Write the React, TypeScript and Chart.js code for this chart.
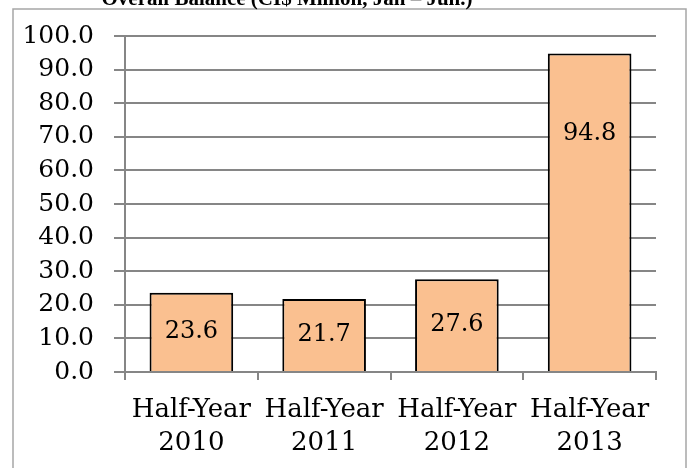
import React, { useEffect, useRef } from "react";
import { Chart, registerables } from "chart.js";

Chart.register(...registerables);

const categories: string[][] = [
  ["Half-Year", "2010"],
  ["Half-Year", "2011"],
  ["Half-Year", "2012"],
  ["Half-Year", "2013"],
];
const balanceValues: number[] = [23.6, 21.7, 27.6, 94.8];
const titleText = "Overall Balance (CI$ Million, Jan \u2013 Jun.)";
const yMin = 0;
const yMax = 100;
const yStep = 10;

const FONT = "'DejaVu Serif', serif";
const GRID = "#868686";

const framePlugin = {
  id: "frameAndTitle",
  beforeDraw(chart: any) {
    const { ctx, width, height } = chart;
    ctx.save();
    ctx.fillStyle = "#ffffff";
    ctx.fillRect(0, 0, width, height);
    ctx.strokeStyle = "#a6a6a6";
    ctx.lineWidth = 1.5;
    ctx.beginPath();
    ctx.moveTo(13, height + 5);
    ctx.lineTo(13, 9);
    ctx.lineTo(686, 9);
    ctx.lineTo(686, height + 5);
    ctx.stroke();
    ctx.fillStyle = "#000000";
    ctx.font = "bold 21px 'Liberation Serif', serif";
    ctx.textAlign = "center";
    ctx.textBaseline = "alphabetic";
    ctx.fillText(titleText, 287, 5);
    ctx.restore();
  },
};

const labelPlugin = {
  id: "barLabels",
  afterDatasetsDraw(chart: any) {
    const { ctx } = chart;
    const meta = chart.getDatasetMeta(0);
    const data = chart.data.datasets[0].data as number[];
    ctx.save();
    ctx.fillStyle = "#000000";
    ctx.font = `24px ${FONT}`;
    ctx.textAlign = "center";
    ctx.textBaseline = "middle";
    meta.data.forEach((bar: any, i: number) => {
      const centre = (bar.y + bar.base) / 2;
      const y = Math.min(centre, bar.y + 80);
      ctx.fillText(data[i].toFixed(1), bar.x, y);
    });
    ctx.restore();
  },
};

export default function App() {
  const canvasRef = useRef<HTMLCanvasElement | null>(null);

  useEffect(() => {
    if (!canvasRef.current) return;
    const chart = new Chart(canvasRef.current, {
      type: "bar",
      data: {
        labels: categories,
        datasets: [
          {
            data: balanceValues,
            backgroundColor: "#FAC090",
            borderColor: "#000000",
            borderWidth: 2,
            barPercentage: 0.63,
            categoryPercentage: 1,
          },
        ],
      },
      options: {
        animation: false,
        responsive: false,
        maintainAspectRatio: false,
        layout: { padding: { left: 0, right: 33, top: 36, bottom: 0 } },
        plugins: {
          legend: { display: false },
          title: { display: false },
          tooltip: { enabled: false },
        },
        scales: {
          x: {
            grid: {
              offset: true,
              drawOnChartArea: false,
              drawTicks: true,
              tickLength: 8,
              color: GRID,
              lineWidth: 2,
            },
            border: { color: GRID, width: 2 },
            ticks: {
              color: "#000000",
              font: { family: FONT, size: 26, lineHeight: 1.27 },
              padding: 14,
              maxRotation: 0,
              autoSkip: false,
            },
            afterFit(scale: any) {
              scale.height = 96;
            },
          },
          y: {
            min: yMin,
            max: yMax,
            grid: {
              color: GRID,
              lineWidth: 2,
              drawTicks: true,
              tickLength: 11,
            },
            border: { color: GRID, width: 2 },
            ticks: {
              stepSize: yStep,
              color: "#000000",
              font: { family: FONT, size: 25 },
              padding: 20,
              callback: (v: any) => Number(v).toFixed(1),
            },
            afterFit(scale: any) {
              scale.width = 125;
            },
          },
        },
      },
      plugins: [framePlugin, labelPlugin],
    });
    return () => chart.destroy();
  }, []);

  return (
    <div style={{ position: "absolute", left: 0, top: 0, width: 689, height: 468 }}>
      <canvas ref={canvasRef} width={689} height={468} style={{ display: "block" }} />
    </div>
  );
}
